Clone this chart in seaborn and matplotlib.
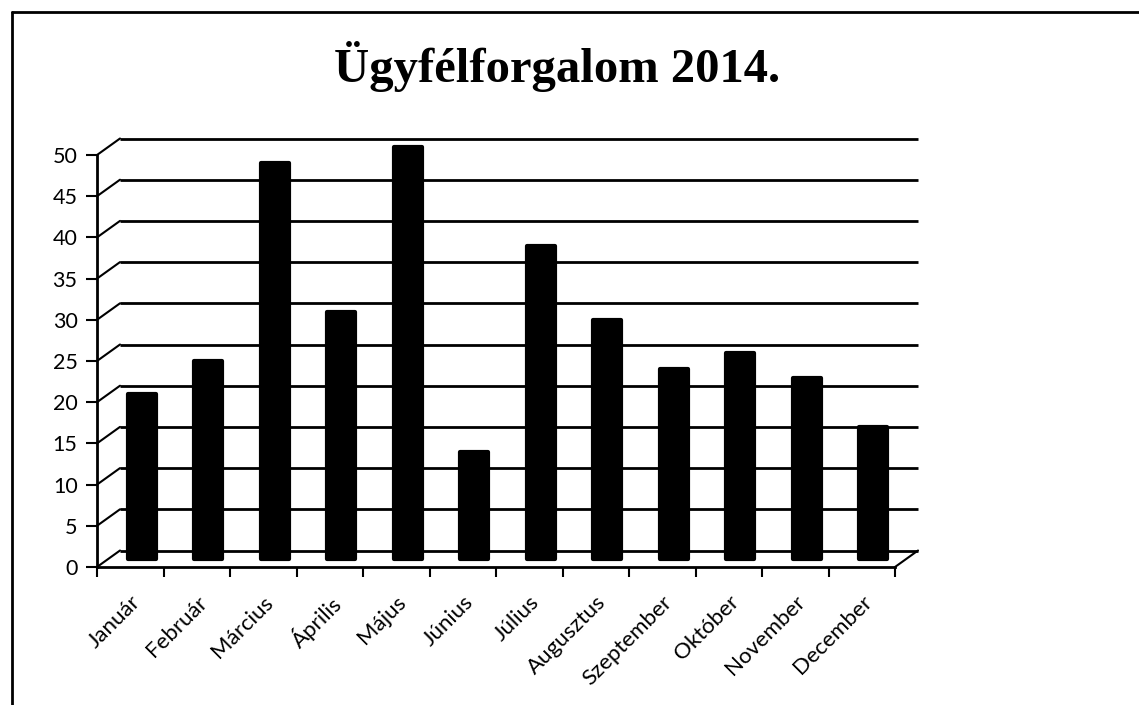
import numpy as np
import pandas as pd
import matplotlib
matplotlib.use("Agg")
import matplotlib.pyplot as plt
import matplotlib.transforms as mtransforms
from matplotlib.patches import ConnectionPatch
from matplotlib.lines import Line2D
import seaborn as sns

# data
months = ["Január", "Február", "Március", "Április", "Május", "Június",
          "Július", "Augusztus", "Szeptember", "Október", "November", "December"]
visitors = [20, 24, 48, 30, 50, 13, 38, 29, 23, 25, 22, 16]
y_ticks = list(range(0, 55, 5))
title = "Ügyfélforgalom 2014."

W, H, DPI = 1139, 705, 100

sns.set_theme(style="white")
plt.rcParams["font.family"] = ["Lato", "DejaVu Sans"]
plt.rcParams["text.color"] = "black"
plt.rcParams["xtick.color"] = "black"
plt.rcParams["ytick.color"] = "black"

fig = plt.figure(figsize=(W / DPI, H / DPI), dpi=DPI)
ax = fig.add_axes([97 / W, (H - 567) / H, 798 / W, 412 / H])

df = pd.DataFrame({"honap": months, "ugyfel": visitors})
sns.barplot(data=df, x="honap", y="ugyfel", color="black", width=0.42,
            saturation=1, ax=ax)

ax.set_xlim(-0.5, len(months) - 0.5)
ax.set_ylim(0, 50)

# pseudo 3D: back wall shifted up/right, bars half way in depth
back_tr = mtransforms.offset_copy(ax.transData, fig, x=23, y=16.5, units="dots")
bar_tr = mtransforms.offset_copy(ax.transData, fig, x=11.5, y=8, units="dots")

for p in ax.patches:
    p.set_transform(bar_tr)
    p.set_clip_on(False)
    p.set_edgecolor("black")
    p.set_linewidth(3)
    p.set_joinstyle("round")

ax.hlines(y_ticks, -0.5, len(months) - 0.5, colors="black", linewidth=2,
          transform=back_tr, clip_on=False, zorder=0)
for y in y_ticks:
    con = ConnectionPatch((-0.5, y), (-0.5, y), coordsA=ax.transData,
                          coordsB=back_tr, color="black", linewidth=1.5)
    fig.add_artist(con)
con = ConnectionPatch((len(months) - 0.5, 0), (len(months) - 0.5, 0),
                      coordsA=ax.transData, coordsB=back_tr,
                      color="black", linewidth=1.5)
fig.add_artist(con)

ax.set_yticks(y_ticks)
ax.set_yticklabels([str(v) for v in y_ticks], fontsize=15.5)
ax.set_xticks(range(len(months)))
ax.set_xticklabels(months, fontsize=16, rotation=45, ha="right",
                   rotation_mode="anchor")
ax.set_xticks(np.arange(-0.5, len(months), 1), minor=True)
ax.tick_params(axis="y", which="major", direction="out", length=8, width=1.5,
               color="black", pad=6, left=True)
ax.tick_params(axis="x", which="major", length=0, pad=18)
ax.tick_params(axis="x", which="minor", direction="out", length=7, width=1.5,
               color="black", bottom=True)
ax.set_xlabel("")
ax.set_ylabel("")
ax.grid(False)
ax.set_facecolor("none")

sns.despine(ax=ax)
for side in ["left", "bottom"]:
    ax.spines[side].set_color("black")
    ax.spines[side].set_linewidth(2)

fig.text(557 / W, 1 - 66 / H, title, ha="center", va="center", color="black",
         fontsize=35, fontweight="bold", family=["Liberation Serif"])

# outer frame of the scan
fig.add_artist(Line2D([12 / W, 12 / W], [0, 1 - 12 / H], transform=fig.transFigure,
                      color="black", linewidth=2))
fig.add_artist(Line2D([12 / W, 1], [1 - 12 / H, 1 - 12 / H], transform=fig.transFigure,
                      color="black", linewidth=2))

fig.savefig("out.png", dpi=DPI)
